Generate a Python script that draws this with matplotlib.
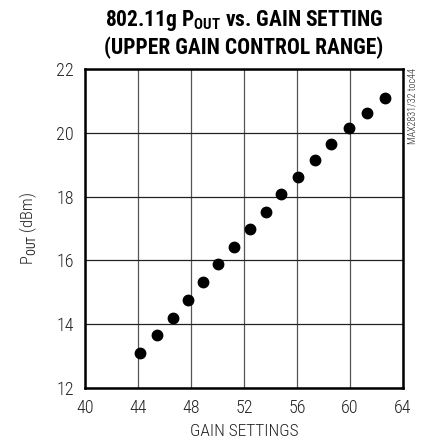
import matplotlib
matplotlib.use("Agg")
import matplotlib.pyplot as plt

FONT = ['Roboto Condensed', 'Archivo Narrow', 'Liberation Sans', 'DejaVu Sans']
plt.rcParams['font.family'] = FONT
plt.rcParams['mathtext.fontset'] = 'custom'
plt.rcParams['mathtext.rm'] = 'Roboto Condensed'
plt.rcParams['mathtext.bf'] = 'Roboto Condensed:bold'

# data
gain_settings = [44.18, 45.46, 46.64, 47.74, 48.92, 50.07, 51.28, 52.48,
                 53.64, 54.82, 56.07, 57.34, 58.60, 59.94, 61.27, 62.65]
pout_dbm = [13.10, 13.65, 14.20, 14.77, 15.33, 15.89, 16.43, 16.97,
            17.53, 18.08, 18.61, 19.15, 19.66, 20.16, 20.63, 21.09]
x_ticks = [40, 44, 48, 52, 56, 60, 64]
y_ticks = [12, 14, 16, 18, 20, 22]

fig = plt.figure(figsize=(4.24, 4.47), dpi=100)
ax = fig.add_axes([85/424, 59/447, 318/424, 319/447])

ax.plot(gain_settings, pout_dbm, linestyle='none', marker='o',
        markersize=7.5, color='black', zorder=3, clip_on=False)

ax.set_xlim(40, 64)
ax.set_ylim(12, 22)
ax.set_xticks(x_ticks)
ax.set_yticks(y_ticks)
ax.xaxis.grid(True, color='#555555', linewidth=0.9)
ax.yaxis.grid(True, color='#222222', linewidth=0.9)
ax.set_axisbelow(True)
for s in ax.spines.values():
    s.set_linewidth(1.8)
    s.set_color('black')
ax.tick_params(axis='both', length=0, labelsize=13, colors='#222222')
ax.tick_params(axis='x', pad=8)
ax.tick_params(axis='y', pad=8)
for lab in ax.get_xticklabels() + ax.get_yticklabels():
    lab.set_fontweight('light')

ax.set_xlabel('GAIN SETTINGS', fontsize=12.5, color='#222222', labelpad=5,
              fontweight='light')
ax.set_ylabel(r'P$_{\mathrm{OUT}}$ (dBm)', fontsize=12, color='#222222',
              labelpad=12, fontweight='light')

fig.text(0.575, 0.982, r'802.11g P$_{\mathbf{OUT}}$ vs. GAIN SETTING',
         ha='center', va='top', fontsize=15.5, fontweight='bold')
fig.text(0.575, 0.918, '(UPPER GAIN CONTROL RANGE)',
         ha='center', va='top', fontsize=15.5, fontweight='bold')

fig.text(412/424, 1 - 68/447, 'MAX2831/32 toc44', rotation=90,
         ha='center', va='top', fontsize=7.3, color='#222222', fontweight='light')

fig.savefig('out.png', dpi=100)
